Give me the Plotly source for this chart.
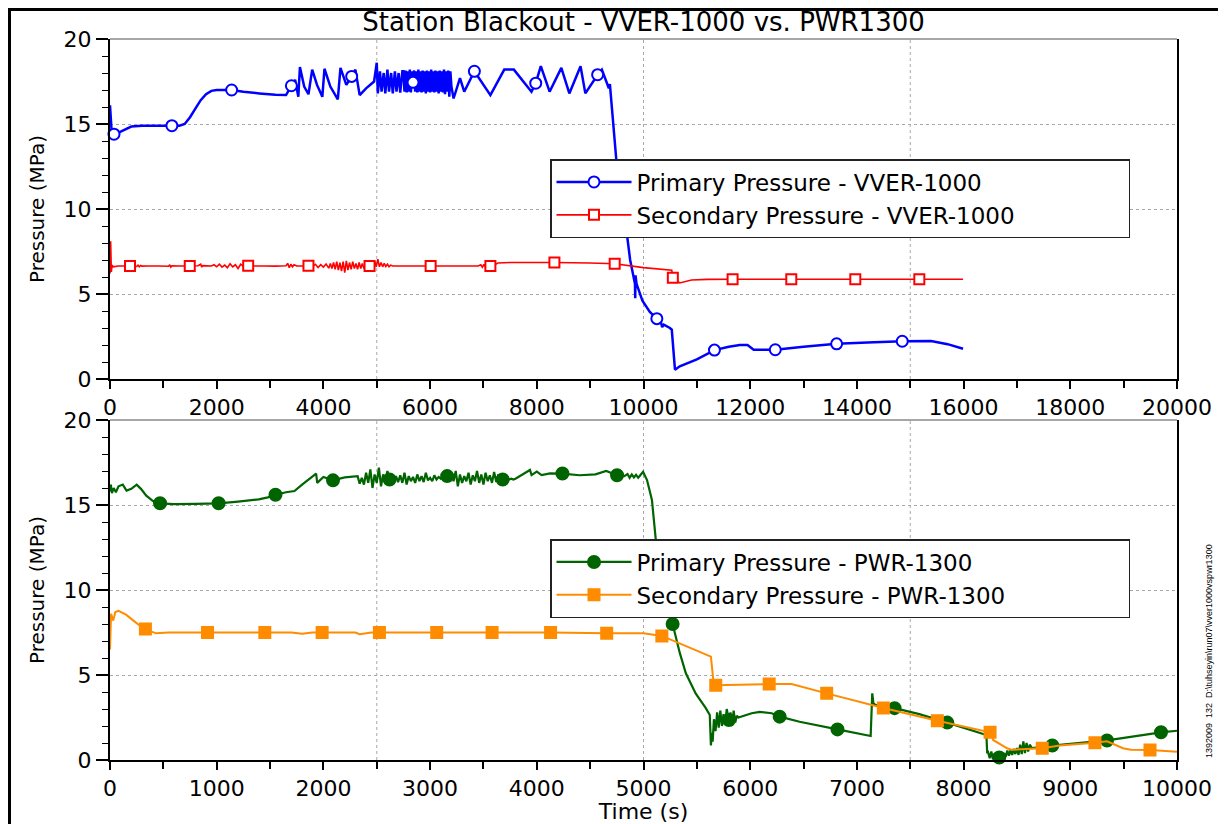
import plotly.graph_objects as go

# ---------------- DATA ----------------
# VVER-1000 primary pressure (MPa) vs time (s)
vver_prim_t = [0, 30, 75, 200, 400, 600, 900, 1160, 1300, 1400, 1500, 1600, 1700, 1800, 1900, 2000, 2150, 2280,
               2500, 2800, 3100, 3300,
               3400, 3470, 3530, 3560, 3640, 3720, 3790, 3880, 3980, 4020, 4130, 4270, 4320, 4430, 4530, 4600,
               4680, 4800, 4950,
               5000, 5020, 5060, 5090, 5130, 5160, 5200, 5230, 5270, 5300, 5340, 5370, 5410, 5440, 5480,
               5500, 5520, 5540, 5560, 5580, 5600, 5620, 5640, 5660, 5680, 5700, 5720, 5740, 5760, 5780,
               5800, 5820, 5840, 5860, 5880, 5900, 5920, 5940, 5960, 5980, 6000, 6020, 6040, 6060, 6080,
               6100, 6120, 6140, 6160, 6180, 6200, 6220, 6240, 6260, 6280, 6300, 6320, 6340, 6360, 6380,
               6400, 6440, 6560, 6640, 6830, 7130, 7390, 7570, 7900, 7980, 8075, 8240, 8460, 8610, 8820,
               8910, 9140, 9220, 9350, 9370, 9490, 9640, 9750, 9840, 9845, 9850, 9870, 9980, 10118, 10200,
               10250, 10330, 10350, 10380, 10495, 10530, 10590, 10680, 11000, 11330, 11600, 11805, 11950,
               12065, 12470, 13000, 13620, 14200, 14850, 15390, 15700, 15990]
vver_prim_p = [16.1, 14.6, 14.4, 14.55, 14.85, 14.9, 14.9, 14.9, 14.9, 15.0, 15.4, 15.9, 16.4, 16.75, 16.95, 17.0,
               17.0, 17.0, 16.9, 16.8, 16.72, 16.7,
               17.25, 17.6, 16.6, 18.35, 17.2, 16.75, 18.2, 17.3, 16.6, 18.25, 17.2, 16.45, 18.3, 17.3, 17.8,
               18.2, 16.7, 17.1, 17.5,
               18.6, 16.8, 18.1, 16.9, 18.0, 16.8, 18.2, 16.9, 18.0, 16.8, 18.1, 16.9, 18.0, 16.85, 18.1,
               18.1, 16.9, 18.15, 16.85, 18.1, 16.9, 18.2, 16.85, 18.1, 17.45, 18.15, 16.9, 18.1, 16.85, 18.2,
               16.9, 18.1, 16.85, 18.15, 16.9, 18.1, 16.8, 18.15, 16.9, 18.1, 16.85, 18.2, 16.9, 18.1, 16.85,
               18.15, 16.9, 18.1, 16.8, 18.15, 16.9, 18.1, 16.85, 18.2, 16.75, 18.1, 16.9, 18.15, 16.6, 18.1,
               17.2, 16.5, 17.7, 16.9, 18.1, 16.7, 18.2, 18.2, 16.9, 17.4, 18.4, 16.9, 18.3, 16.8, 18.4,
               16.8, 17.9, 18.2, 17.1, 17.35, 12.9, 9.75, 7.0, 5.6, 4.75, 6.1, 5.6, 4.6, 3.95, 3.7,
               3.55, 3.3, 3.05, 3.2, 3.0, 2.9, 0.55, 0.75, 1.15, 1.7, 1.9, 2.0, 2.0,
               1.72, 1.72, 1.9, 2.07, 2.15, 2.22, 2.23, 2.05, 1.78]
vver_prim_marks = [75, 1160, 2280, 3400, 4530, 5680, 6830, 7980, 9140, 10250, 11330, 12470, 13620, 14850]

# VVER-1000 secondary pressure
vver_sec_t = [0, 12, 25, 40, 60, 150, 375, 500, 525, 550, 575, 600, 700, 900, 1100, 1120, 1140, 1160, 1300,
              1495, 1650, 1700, 1720, 1740, 1900, 1950, 2000, 2050, 2100, 2150, 2200, 2250, 2300, 2350, 2400,
              2450, 2500, 2590, 2700, 2900, 3100, 3300, 3330, 3360, 3390, 3420, 3450, 3500, 3600, 3720, 3800,
              3850, 3900, 3950, 4000, 4050, 4100, 4130, 4160, 4190, 4220, 4250, 4280, 4310, 4340, 4370, 4400,
              4430, 4460, 4490, 4520, 4550, 4580, 4610, 4640, 4670, 4700, 4730, 4760, 4790, 4820, 4865, 4900,
              4930, 4960, 4990, 5020, 5050, 5080, 5110, 5140, 5170, 5200, 5230, 5260, 5300, 5500, 6010, 6500,
              6900, 6950, 6980, 7010, 7040, 7070, 7100, 7130, 7200, 7270, 7500, 8330, 9000, 9460, 10000,
              10530, 10545, 10550, 10600, 10680, 10900, 11200, 11670, 12770, 13970, 15170, 15990]
vver_sec_p = [6.2, 8.1, 6.3, 6.7, 6.6, 6.65, 6.65, 6.62, 6.7, 6.6, 6.68, 6.64, 6.65, 6.65, 6.63, 6.72, 6.58, 6.66,
              6.65, 6.65, 6.66, 6.75, 6.58, 6.67, 6.65, 6.72, 6.6, 6.75, 6.58, 6.7, 6.55, 6.78, 6.6, 6.72, 6.5,
              6.75, 6.62, 6.66, 6.65, 6.65, 6.64, 6.66, 6.8, 6.55, 6.75, 6.6, 6.72, 6.65, 6.65, 6.66, 6.64,
              6.75, 6.56, 6.73, 6.58, 6.76, 6.52, 6.8, 6.5, 6.85, 6.45, 6.9, 6.4, 6.85, 6.35, 6.9, 6.25,
              6.95, 6.4, 6.85, 6.45, 6.9, 6.5, 6.8, 6.45, 6.85, 6.5, 6.8, 6.5, 6.75, 6.55, 6.65, 6.75,
              6.55, 6.95, 6.6, 7.05, 6.6, 6.85, 6.6, 6.8, 6.62, 6.75, 6.6, 6.7, 6.65, 6.65, 6.65, 6.65,
              6.65, 6.72, 6.58, 6.74, 6.56, 6.72, 6.6, 6.65, 6.7, 6.82, 6.85, 6.85, 6.82, 6.78, 6.55,
              6.4, 6.0, 5.95, 5.85, 5.65, 5.82, 5.86, 5.87, 5.87, 5.87, 5.87, 5.87]
vver_sec_marks = [375, 1495, 2590, 3720, 4865, 6010, 7130, 8330, 9460, 10550, 11670, 12770, 13970, 15170]

# PWR-1300 primary pressure
pwr_prim_t = [0, 8, 18, 35, 55, 80, 120, 155, 200, 250, 290, 340, 400, 469, 600, 800, 1018, 1200, 1394, 1480,
              1551, 1650, 1729, 1800, 1932, 1942, 2000, 2090, 2200, 2321, 2340,
              2360, 2380, 2400, 2420, 2440, 2460, 2480, 2500, 2520, 2540, 2560, 2580, 2600, 2620, 2640, 2660,
              2680, 2700, 2720, 2740, 2760, 2780, 2800, 2820, 2840, 2860, 2880, 2900, 2920, 2940, 2960, 2980,
              3000, 3020, 3040, 3060, 3080, 3100, 3120, 3140, 3160, 3180, 3200, 3220, 3240, 3260, 3280, 3300,
              3320, 3340, 3360, 3380, 3400, 3420, 3440, 3460, 3480, 3500, 3520, 3540, 3560, 3580, 3600, 3620,
              3640, 3660, 3680, 3700, 3720, 3740, 3760, 3780,
              3800, 3936, 3951, 4000, 4045, 4124, 4240, 4400, 4550, 4650, 4752, 4820, 4850, 4870, 4890, 4910,
              4930, 4950, 4970, 4996, 5033, 5079, 5116, 5150, 5191, 5273, 5340, 5397, 5490, 5584, 5621, 5632,
              5640, 5648, 5660, 5675, 5690, 5705, 5720, 5735, 5750, 5765, 5780, 5800, 5815, 5830, 5845, 5860,
              5875, 5890, 6014, 6089, 6202, 6276, 6463, 6818, 7129, 7144, 7155, 7173, 7353, 7585, 7847, 8214,
              8221, 8230, 8245, 8260, 8275, 8290, 8305, 8320, 8334, 8350, 8365, 8380, 8395, 8410, 8425, 8440,
              8455, 8470, 8485, 8500, 8515, 8530, 8545, 8560, 8575, 8590, 8605, 8620, 8640, 8700, 8831, 9000,
              9344, 9850, 10000]
pwr_prim_p = [15.8, 16.2, 15.7, 16.0, 15.75, 16.1, 16.2, 15.85, 15.95, 16.2, 15.95, 15.55, 15.25, 15.1, 15.05,
              15.07, 15.1, 15.2, 15.33, 15.45, 15.6, 15.75, 15.82, 16.2, 16.85, 16.3, 16.65, 16.45, 16.62, 16.7,
              16.25,
              16.6, 16.2, 16.9, 16.3, 17.1, 16.0, 16.8, 16.3, 17.2, 16.1, 16.8, 16.4, 17.0, 16.5, 16.8, 16.3,
              16.7, 16.35, 16.75, 16.3, 16.9, 16.2, 16.7, 16.4, 16.65, 16.3, 16.8, 16.4, 16.7, 16.35, 16.9, 16.45,
              16.6, 16.4, 16.75, 16.5, 16.65, 16.55, 16.7, 16.6, 16.7, 16.5, 16.9, 16.4, 17.0, 16.1, 16.8, 16.3,
              16.7, 16.4, 16.9, 16.2, 16.75, 16.4, 17.0, 16.3, 16.8, 16.2, 16.9, 16.4, 16.75, 16.3, 16.95, 16.35,
              16.8, 16.4, 16.5, 16.45, 16.6, 16.5, 16.55, 16.5,
              16.55, 17.06, 16.76, 16.96, 16.76, 16.86, 16.85, 16.75, 16.8, 17.0, 16.75, 16.7, 16.82, 16.6,
              16.8, 16.62, 16.78, 16.6, 16.75, 16.95, 16.47, 15.3, 12.9, 11.2, 9.8, 8.0, 6.3, 5.1, 3.9, 3.05,
              2.65, 0.85, 1.6, 1.08, 2.4, 1.7, 2.8, 1.9, 2.9, 2.0, 2.7, 2.1, 3.0, 2.35, 2.8, 2.0, 2.9, 2.2,
              2.6, 2.5, 2.75, 2.83, 2.75, 2.55, 2.25, 1.8, 1.41, 3.92, 3.33, 3.24, 3.05, 2.7, 2.2, 1.47,
              0.4, 0.45, 0.1, 0.5, 0.05, 0.4, 0.1, 0.35, 0.15, 0.45, 0.1, 0.4, 0.2, 0.55, 0.25, 0.6,
              0.3, 0.65, 0.35, 0.7, 0.3, 0.9, 0.35, 1.1, 0.4, 1.0, 0.5, 0.9, 0.7, 0.75, 0.85, 0.95,
              1.15, 1.63, 1.72]
pwr_prim_marks = [469, 1018, 1551, 2090, 2620, 3160, 3680, 4240, 4752, 5273, 5800, 6276, 6818, 7353, 7847,
                  8334, 8831, 9344, 9850]

# PWR-1300 secondary pressure
pwr_sec_t = [0, 10, 30, 50, 80, 150, 220, 280, 332, 430, 550, 914, 1451, 1700, 1800, 1900, 1988, 2300, 2340,
             2450, 2525, 3062, 3581, 4129, 4655, 5000, 5172, 5632, 5659, 5677, 6178, 6387, 6717, 7248, 7754,
             8248, 8277, 8408, 8446, 8737, 8900, 9231, 9344, 9494, 9569, 9747, 10000]
pwr_sec_p = [6.5, 8.6, 8.2, 8.7, 8.78, 8.55, 8.2, 7.9, 7.7, 7.45, 7.5, 7.5, 7.5, 7.5, 7.43, 7.5, 7.5, 7.5, 7.4,
             7.5, 7.5, 7.5, 7.5, 7.5, 7.45, 7.45, 7.3, 6.08, 4.41, 4.39, 4.47, 4.47, 3.92, 3.06, 2.31,
             1.63, 1.18, 0.69, 0.6, 0.69, 0.85, 1.02, 1.1, 0.69, 0.6, 0.59, 0.49]
pwr_sec_marks = [332, 914, 1451, 1988, 2525, 3062, 3581, 4129, 4655, 5172, 5677, 6178, 6717, 7248, 7754, 8248,
                 8737, 9231, 9747]

top_grid_x = [5000, 10000, 15000]
bot_grid_x = [2500, 5000, 7500]

TITLE = "Station Blackout - VVER-1000 vs. PWR1300"
STAMP = "1392009  132  D:\\tuhseyin\\run07\\vver1000vspwr1300"

# ---------------- LAYOUT HELPERS ----------------
# The page body adds an 8px offset; the figure is sized so that it fills the window exactly.
OFF = 8
W, H = 1226 - OFF, 824 - OFF
ML, MR, MT, MB = 110 - OFF, 1226 - 1177, 39 - OFF, 824 - 760
PW = W - ML - MR
PH = H - MT - MB


def px(xs):  # screen x -> paper x
    return (xs - OFF - ML) / PW


def py(ys):  # screen y -> paper y
    return (H - MB - (ys - OFF)) / PH


FONT = "DejaVu Sans, Arial, sans-serif"
fig = go.Figure()


def add_series(t, p, marks, color, lw, symbol, msize, mfill, name, xa, ya, legend):
    assert len(t) == len(p), name
    fig.add_trace(go.Scatter(x=t, y=p, mode="lines", xaxis=xa, yaxis=ya, showlegend=False,
                             line=dict(color=color, width=lw, simplify=False), hoverinfo="skip"))
    mp = [p[t.index(m)] for m in marks]
    mk = dict(symbol=symbol, size=msize, color=mfill, line=dict(color=color, width=2))
    fig.add_trace(go.Scatter(x=marks, y=mp, mode="markers", xaxis=xa, yaxis=ya, showlegend=False,
                             marker=mk, cliponaxis=False))
    fig.add_trace(go.Scatter(x=[None], y=[None], mode="lines+markers", xaxis=xa, yaxis=ya, name=name,
                             legend=legend, line=dict(color=color, width=lw), marker=mk))


add_series(vver_prim_t, vver_prim_p, vver_prim_marks, "#0000ff", 2.5, "circle", 11, "white",
           "Primary Pressure - VVER-1000", "x", "y", "legend")
add_series(vver_sec_t, vver_sec_p, vver_sec_marks, "#ff0000", 1.6, "square", 10, "white",
           "Secondary Pressure - VVER-1000", "x", "y", "legend")
add_series(pwr_prim_t, pwr_prim_p, pwr_prim_marks, "#006400", 2.2, "circle", 12, "#006400",
           "Primary Pressure - PWR-1300", "x2", "y2", "legend2")
add_series(pwr_sec_t, pwr_sec_p, pwr_sec_marks, "#ff8c00", 2.0, "square", 11, "#ff8c00",
           "Secondary Pressure - PWR-1300", "x2", "y2", "legend2")

tickfont = dict(family=FONT, size=22, color="black")


def xax(rng, dtick, minor, anchor, title=None):
    d = dict(range=rng, dtick=dtick, tick0=0, anchor=anchor, showline=True, linecolor="black", linewidth=2,
             ticks="outside", ticklen=8, tickwidth=1.5, tickcolor="black", showgrid=False, zeroline=False,
             tickformat="d", automargin=False, tickfont=tickfont,
             minor=dict(dtick=minor, ticks="outside", ticklen=7, tickwidth=1.5, tickcolor="black",
                        showgrid=False))
    if title:
        d["title"] = dict(text=title, font=dict(family=FONT, size=22, color="black"), standoff=4)
    return d


def yax(domain, anchor):
    return dict(range=[0, 20], dtick=5, tick0=0, domain=domain, anchor=anchor, showline=True,
                linecolor="black", linewidth=2, mirror=True, ticks="outside", ticklen=12, tickwidth=1.5,
                tickcolor="black", showgrid=True, gridcolor="#a8a8a8", griddash="dot", gridwidth=1,
                zeroline=False, automargin=False, tickfont=tickfont,
                minor=dict(dtick=1, ticks="outside", ticklen=6, tickwidth=1.2, tickcolor="black",
                           showgrid=False),
                title=dict(text="Pressure (MPa)", font=dict(family=FONT, size=20, color="black"),
                           standoff=14))


shapes = []
for g in top_grid_x:
    shapes.append(dict(type="line", xref="x", yref="y domain", x0=g, x1=g, y0=0, y1=1, layer="below",
                       line=dict(color="#a8a8a8", width=1, dash="dot")))
for g in bot_grid_x:
    shapes.append(dict(type="line", xref="x2", yref="y2 domain", x0=g, x1=g, y0=0, y1=1, layer="below",
                       line=dict(color="#a8a8a8", width=1, dash="dot")))
# light top border of each plot
for yy in (1.0, py(420)):
    shapes.append(dict(type="line", xref="paper", yref="paper", x0=0, x1=1, y0=yy, y1=yy,
                       line=dict(color="#8a8a8a", width=1.5)))
# outer frame
shapes.append(dict(type="rect", xref="paper", yref="paper", x0=px(9.5), x1=px(1222.5), y0=py(840),
                   y1=py(9.5), line=dict(color="black", width=3)))

legfont = dict(family=FONT, size=23, color="black")
legcommon = dict(xanchor="left", yanchor="top", bgcolor="white", bordercolor="#222222", borderwidth=1.5,
                 font=legfont, itemwidth=75, tracegroupgap=0, orientation="h",
                 entrywidth=487, entrywidthmode="pixels")
fig.update_layout(
    width=W, height=H,
    margin=dict(l=ML, r=MR, t=MT, b=MB, autoexpand=False),
    paper_bgcolor="white", plot_bgcolor="white",
    font=dict(family=FONT, color="black"),
    title=dict(text=TITLE, x=0.5, xref="paper", xanchor="center", y=1 - (22 - OFF) / H, yref="container",
               yanchor="middle", font=dict(family=FONT, size=26, color="black")),
    xaxis=xax([0, 20000], 2000, 1000, "y"),
    yaxis=yax([py(379), 1], "x"),
    xaxis2=xax([0, 10000], 1000, 500, "y2", "Time (s)"),
    yaxis2=yax([0, py(420)], "x2"),
    legend=dict(x=px(550), y=py(159), **legcommon),
    legend2=dict(x=px(550), y=py(539), **legcommon),
    shapes=shapes,
    annotations=[dict(text=STAMP, xref="paper", yref="paper", x=px(1209), y=py(651), showarrow=False,
                      textangle=-90, xanchor="center", yanchor="middle",
                      font=dict(family="Liberation Sans Narrow, Liberation Sans, sans-serif", size=9,
                                color="black"))],
    showlegend=True,
)

fig.write_html("out.html")
